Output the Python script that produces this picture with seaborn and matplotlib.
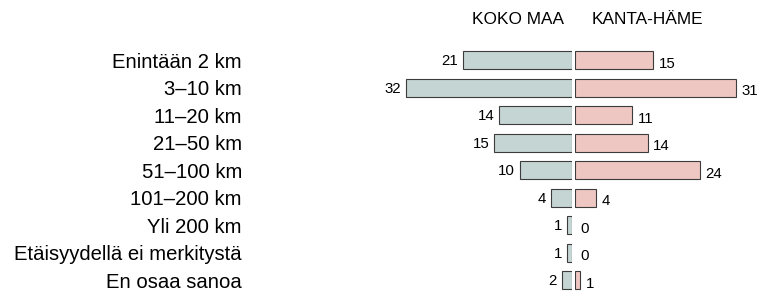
import matplotlib
matplotlib.use('Agg')
import matplotlib.pyplot as plt
import seaborn as sns
import pandas as pd

# data
categories = ['Enintään 2 km', '3–10 km', '11–20 km', '21–50 km', '51–100 km',
              '101–200 km', 'Yli 200 km', 'Etäisyydellä ei merkitystä', 'En osaa sanoa']
koko_maa = [21, 32, 14, 15, 10, 4, 1, 1, 2]
kanta_hame = [15, 31, 11, 14, 24, 4, 0, 0, 1]
titles = ['KOKO MAA', 'KANTA-HÄME']

sns.set_style('white')
plt.rcParams['font.family'] = ['Liberation Sans', 'DejaVu Sans']
plt.rcParams['text.color'] = 'black'
plt.rcParams['ytick.color'] = 'black'

df = pd.DataFrame({'cat': categories, 'koko': koko_maa, 'kh': kanta_hame})

W, H = 758, 295
fig = plt.figure(figsize=(W / 100, H / 100), dpi=100)

scale = 5.2  # pixels per percent
ax_l = fig.add_axes([250 / W, 0.004, 322 / W, 0.839])
ax_r = fig.add_axes([575 / W, 0.004, 183 / W, 0.839])

edge = '#3c3c3c'
sns.barplot(data=df, x='koko', y='cat', ax=ax_l, color='#c5d5d4',
            saturation=1, width=0.65, edgecolor=edge, linewidth=0.8)
sns.barplot(data=df, x='kh', y='cat', ax=ax_r, color='#eec7c2',
            saturation=1, width=0.65, edgecolor=edge, linewidth=0.8)

# no outline for empty bars
for ax in (ax_l, ax_r):
    for p in ax.patches:
        if p.get_width() == 0:
            p.set_linewidth(0)

ax_l.set_xlim(322 / scale, 0)
ax_r.set_xlim(0, 183 / scale)

for ax in (ax_l, ax_r):
    ax.set_xlabel('')
    ax.set_ylabel('')
    ax.set_xticks([])
    sns.despine(ax=ax, left=True, bottom=True)

ax_l.tick_params(axis='y', length=0, pad=5.8, labelsize=14.6, labelcolor='black')
ax_r.set_yticks([])

for i, v in enumerate(koko_maa):
    ax_l.annotate(str(v), (v, i), xytext=(-3.5, -1), textcoords='offset points',
                  ha='right', va='center', fontsize=10.8)
for i, v in enumerate(kanta_hame):
    ax_r.annotate(str(v), (v, i), xytext=(4, -2.5), textcoords='offset points',
                  ha='left', va='center', fontsize=10.8)

fig.text(518 / W, 1 - 20 / H, titles[0], ha='center', va='center', fontsize=12.4)
fig.text(647 / W, 1 - 20 / H, titles[1], ha='center', va='center', fontsize=12.4)

fig.savefig('out.png', dpi=100)
